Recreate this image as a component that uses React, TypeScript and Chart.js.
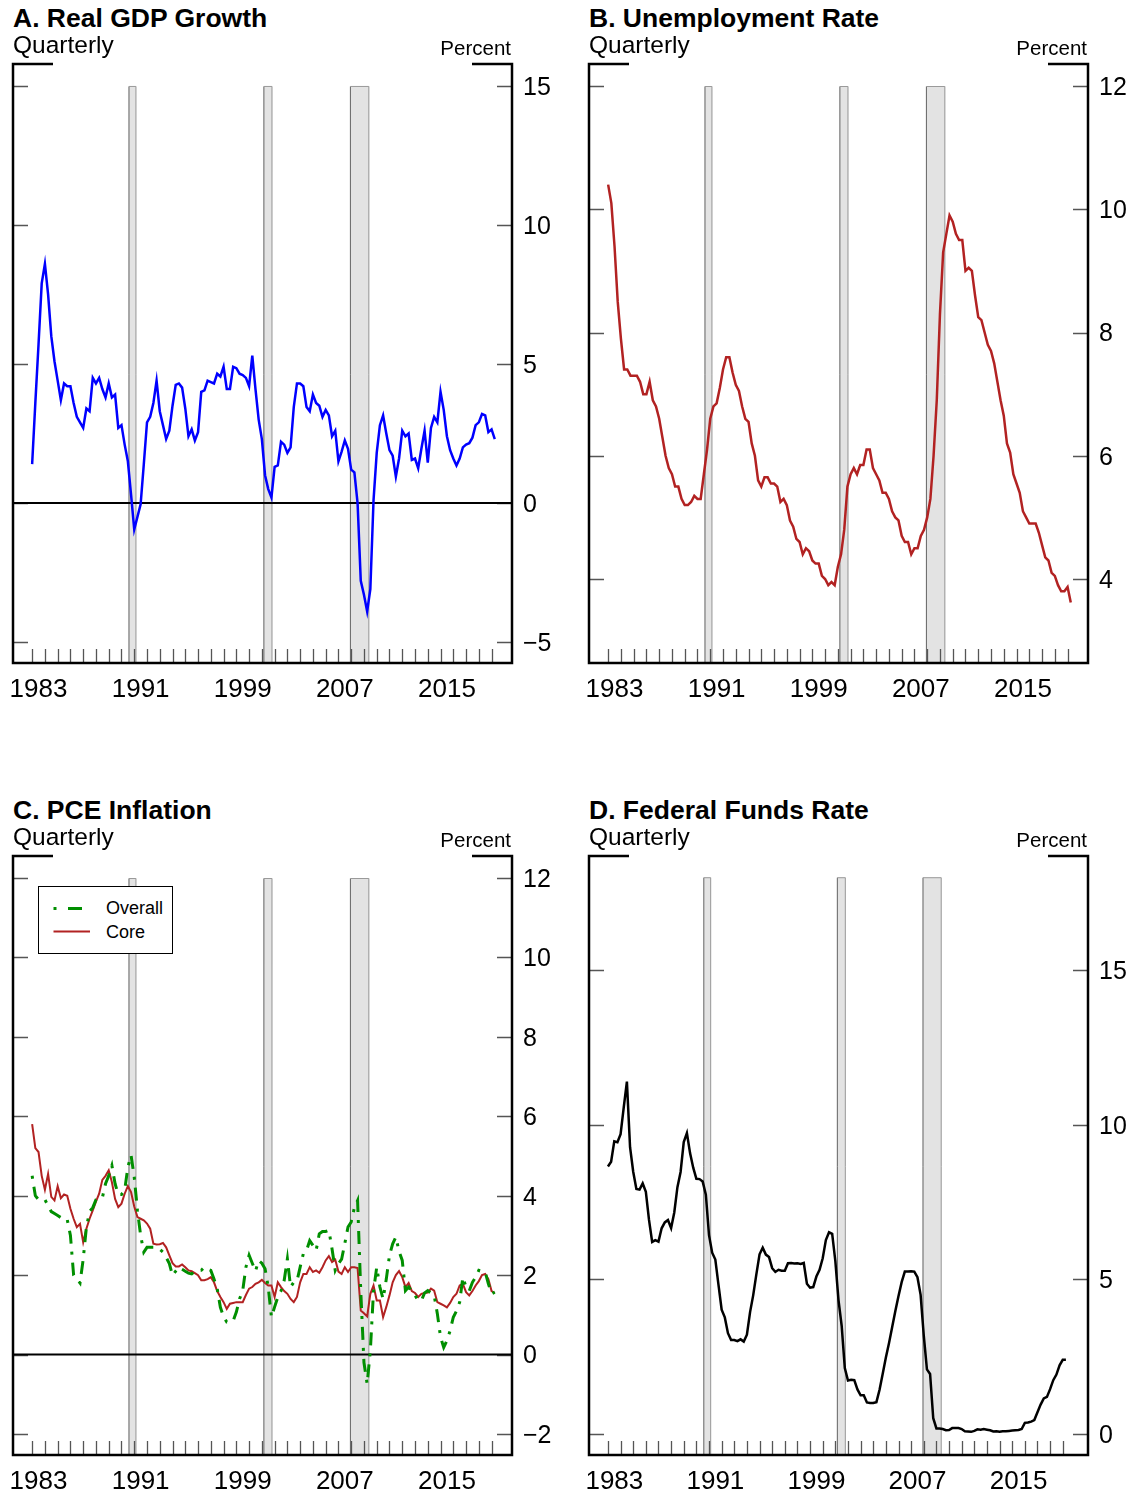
import React, { useEffect, useRef } from 'react';
import { Chart, registerables } from 'chart.js';

Chart.register(...registerables);
Chart.defaults.font.family = '"Liberation Sans", Arial, Helvetica, sans-serif';

// ---------- data ----------
const START_YEAR = 1983;
const N_QUARTERS = 146; // 1983Q1 .. 2019Q2
const quarters: string[] = Array.from({ length: N_QUARTERS }, (_, i) => `${START_YEAR + Math.floor(i / 4)}Q${(i % 4) + 1}`);

const gdpGrowth = [
  1.4, 3.6, 5.7, 7.9, 8.6, 7.5, 6.0, 5.1, 4.4, 3.7, 4.3, 4.2, 4.2, 3.6, 3.1, 2.9,
  2.7, 3.4, 3.3, 4.5, 4.3, 4.5, 4.1, 3.8, 4.3, 3.8, 3.9, 2.7, 2.8, 2.1, 1.5, 0.3,
  -0.95, -0.5, -0.05, 1.4, 2.9, 3.1, 3.6, 4.4, 3.3, 2.8, 2.3, 2.6, 3.5, 4.25, 4.3, 4.15,
  3.4, 2.4, 2.65, 2.25, 2.55, 4.0, 4.05, 4.4, 4.35, 4.3, 4.65, 4.55, 4.9, 4.1, 4.1, 4.9,
  4.85, 4.65, 4.6, 4.5, 4.2, 5.3, 4.1, 3.0, 2.3, 1.0, 0.5, 0.2, 1.3, 1.35, 2.2, 2.1,
  1.8, 2.0, 3.45, 4.3, 4.3, 4.2, 3.45, 3.3, 3.9, 3.6, 3.5, 3.1, 3.35, 3.15, 2.4, 2.6,
  1.5, 1.85, 2.25, 1.95, 1.2, 1.1, 0.0, -2.8, -3.3, -3.9, -3.1, 0.1, 1.8, 2.8, 3.15, 2.5,
  1.9, 1.7, 0.95, 1.6, 2.6, 2.4, 2.5, 1.55, 1.6, 1.25, 1.95, 2.6, 1.45, 2.7, 3.1, 2.9,
  4.0, 3.35, 2.4, 1.9, 1.6, 1.35, 1.6, 2.0, 2.1, 2.15, 2.35, 2.8, 2.9, 3.2, 3.15, 2.55,
  2.65, 2.3,
];

const unemploymentRate = [
  10.4, 10.1, 9.4, 8.5, 7.9, 7.4, 7.4, 7.3, 7.3, 7.3, 7.2, 7.0, 7.0, 7.2, 6.9, 6.8,
  6.6, 6.3, 6.0, 5.8, 5.7, 5.5, 5.5, 5.3, 5.2, 5.2, 5.25, 5.35, 5.3, 5.3, 5.7, 6.1,
  6.6, 6.8, 6.85, 7.1, 7.4, 7.6, 7.6, 7.35, 7.15, 7.05, 6.8, 6.6, 6.55, 6.2, 6.0, 5.6,
  5.5, 5.65, 5.65, 5.55, 5.55, 5.5, 5.25, 5.3, 5.2, 4.95, 4.85, 4.65, 4.6, 4.4, 4.5, 4.45,
  4.3, 4.25, 4.25, 4.05, 4.0, 3.9, 3.95, 3.9, 4.2, 4.4, 4.8, 5.5, 5.7, 5.8, 5.7, 5.85,
  5.85, 6.1, 6.1, 5.8, 5.7, 5.6, 5.4, 5.4, 5.3, 5.1, 5.0, 4.95, 4.7, 4.6, 4.6, 4.4,
  4.5, 4.5, 4.7, 4.8, 5.0, 5.3, 6.0, 6.9, 8.3, 9.3, 9.6, 9.9, 9.8, 9.6, 9.5, 9.5,
  9.0, 9.05, 9.0, 8.6, 8.25, 8.2, 8.0, 7.8, 7.7, 7.5, 7.2, 6.9, 6.65, 6.2, 6.05, 5.7,
  5.55, 5.4, 5.1, 5.0, 4.9, 4.9, 4.9, 4.75, 4.55, 4.35, 4.3, 4.1, 4.05, 3.9, 3.8, 3.8,
  3.87, 3.62,
];

const pceOverall = [
  4.5, 4.0, 3.9, 3.9, 3.9, 3.75, 3.6, 3.55, 3.5, 3.45, 3.46, 3.4, 3.0, 2.0, 1.9, 1.8,
  2.4, 3.2, 3.6, 3.7, 3.9, 3.95, 3.95, 4.3, 4.5, 4.76, 4.3, 4.03, 4.03, 4.13, 4.72, 5.02,
  4.47, 3.63, 3.0, 2.58, 2.7, 2.7, 2.7, 2.7, 2.65, 2.58, 2.45, 2.29, 1.99, 2.1, 2.2, 2.15,
  2.1, 2.05, 2.03, 2.1, 2.12, 2.12, 2.2, 2.15, 2.12, 1.9, 1.66, 1.19, 0.95, 0.82, 0.82, 0.85,
  1.07, 1.4, 1.61, 2.2, 2.5, 2.3, 2.1, 2.37, 2.3, 2.16, 1.7, 0.94, 1.2, 1.45, 1.6, 1.87,
  2.41, 1.7, 1.82, 1.85, 2.2, 2.54, 2.62, 2.87, 2.75, 2.62, 3.04, 3.1, 3.1, 3.13, 2.66, 2.12,
  2.29, 2.4, 2.8, 3.21, 3.34, 3.7, 3.88, 1.6, -0.2, -0.74, 0.1, 1.6, 2.2, 1.7, 1.4, 1.9,
  2.5, 2.79, 2.96, 2.6, 2.37, 1.61, 1.7, 1.6, 1.49, 1.36, 1.36, 1.55, 1.61, 1.55, 1.49, 1.03,
  0.44, 0.18, 0.35, 0.6, 0.94, 1.1, 1.32, 1.95, 1.7, 1.6, 1.82, 1.95, 2.12, 2.1, 2.08, 1.78,
  1.53, 1.57,
];

const pceCore = [
  5.8, 5.2, 5.1, 4.5, 4.15, 4.55, 3.97, 3.88, 4.24, 3.94, 4.03, 4.0, 3.67, 3.42, 3.21, 3.29,
  2.83, 3.17, 3.42, 3.63, 3.85, 4.05, 4.4, 4.5, 4.64, 4.34, 3.92, 3.71, 3.8, 4.05, 4.24, 4.09,
  3.73, 3.46, 3.42, 3.38, 3.3, 3.17, 2.79, 2.77, 2.78, 2.81, 2.7, 2.5, 2.3, 2.22, 2.22, 2.27,
  2.2, 2.12, 2.1, 2.05, 2.0, 1.87, 1.87, 1.9, 1.95, 1.82, 1.6, 1.45, 1.32, 1.15, 1.28, 1.3,
  1.32, 1.32, 1.32, 1.5, 1.66, 1.7, 1.78, 1.82, 1.88, 1.8, 1.74, 1.74, 1.45, 1.82, 1.7, 1.6,
  1.53, 1.4, 1.32, 1.45, 1.82, 2.03, 2.03, 2.2, 2.08, 2.12, 2.06, 2.2, 2.37, 2.48, 2.33, 2.39,
  2.09, 2.03, 2.2, 2.08, 2.2, 2.2, 2.18, 1.11, 1.04, 0.96, 1.53, 1.74, 1.36, 1.36, 0.94, 1.2,
  1.49, 1.82, 2.0, 2.1, 1.95, 1.7, 1.8, 1.6, 1.55, 1.45, 1.53, 1.55, 1.56, 1.66, 1.61, 1.32,
  1.28, 1.24, 1.19, 1.3, 1.45, 1.53, 1.74, 1.78, 1.57, 1.49, 1.6, 1.74, 1.85, 2.0, 2.03, 1.9,
  1.6, 1.55,
];

const fedFundsRate = [
  8.65, 8.8, 9.46, 9.43, 9.69, 10.56, 11.39, 9.27, 8.48, 7.92, 7.9, 8.1, 7.83, 6.92, 6.21, 6.27,
  6.22, 6.65, 6.84, 6.92, 6.66, 7.16, 7.98, 8.47, 9.44, 9.73, 9.08, 8.61, 8.25, 8.24, 8.16, 7.74,
  6.43, 5.86, 5.64, 4.82, 4.02, 3.77, 3.26, 3.04, 3.04, 3.0, 3.06, 2.99, 3.21, 3.94, 4.49, 5.17,
  5.81, 6.02, 5.8, 5.72, 5.36, 5.24, 5.31, 5.28, 5.28, 5.52, 5.53, 5.51, 5.52, 5.5, 5.53, 4.86,
  4.73, 4.75, 5.09, 5.31, 5.68, 6.27, 6.52, 6.47, 5.59, 4.33, 3.5, 2.13, 1.73, 1.75, 1.74, 1.44,
  1.25, 1.25, 1.02, 1.0, 1.0, 1.03, 1.43, 1.95, 2.47, 2.94, 3.46, 3.98, 4.46, 4.91, 5.25, 5.25,
  5.26, 5.25, 5.07, 4.5, 3.18, 2.09, 1.94, 0.51, 0.18, 0.18, 0.16, 0.12, 0.13, 0.19, 0.19, 0.19,
  0.16, 0.09, 0.08, 0.07, 0.1, 0.15, 0.14, 0.16, 0.14, 0.12, 0.08, 0.09, 0.07, 0.09, 0.09, 0.1,
  0.11, 0.12, 0.13, 0.16, 0.36, 0.37, 0.4, 0.45, 0.7, 0.95, 1.15, 1.2, 1.45, 1.74, 1.92, 2.22,
  2.4, 2.4,
];

const recessions: [number, number][] = [
  [1990.55, 1991.17],
  [2001.12, 2001.83],
  [2007.9, 2009.42],
];

const xTickYears = Array.from({ length: 38 }, (_, i) => 1982 + i); // 1982 (unlabelled) .. 2019
const labeledYears = [1983, 1991, 1999, 2007, 2015];

const yTicksA = [-5, 0, 5, 10, 15];
const yTicksB = [4, 6, 8, 10, 12];
const yTicksC = [-2, 0, 2, 4, 6, 8, 10, 12];
const yTicksD = [0, 5, 10, 15];

// ---------- helpers ----------
const quarterToX = (q: string) => {
  const yr = parseInt(q.slice(0, 4), 10);
  const qi = parseInt(q.slice(5), 10);
  return yr + (qi - 1) / 4;
};
const toPoints = (vals: number[]) => vals.map((v, i) => ({ x: quarterToX(quarters[i]), y: v }));

const FONT = '"Liberation Sans", Arial, Helvetica, sans-serif';

const decorPlugin = {
  id: 'panelDecor',
  beforeDatasetsDraw(chart: any, _args: any, opts: any) {
    const { ctx, chartArea: a, scales } = chart;
    const x = scales.x;
    const y = scales.y;
    ctx.save();
    // recession bands
    const yt = y.getPixelForValue(opts.bandTop);
    for (const [s, e] of opts.bands as [number, number][]) {
      const x0 = x.getPixelForValue(s);
      const x1 = x.getPixelForValue(e);
      ctx.fillStyle = '#e3e3e3';
      ctx.fillRect(x0, yt, x1 - x0, a.bottom - yt);
      ctx.lineWidth = 1;
      ctx.strokeStyle = '#666';
      ctx.beginPath();
      ctx.moveTo(x0 + 0.5, a.bottom);
      ctx.lineTo(x0 + 0.5, yt + 0.5);
      ctx.stroke();
      ctx.strokeStyle = '#9a9a9a';
      ctx.beginPath();
      ctx.moveTo(x0 + 0.5, yt + 0.5);
      ctx.lineTo(x1 - 0.5, yt + 0.5);
      ctx.lineTo(x1 - 0.5, a.bottom);
      ctx.stroke();
    }
    // y tick marks (inward, both sides)
    ctx.strokeStyle = '#555';
    ctx.lineWidth = 1.3;
    for (const t of y.ticks) {
      const py = Math.round(y.getPixelForValue(t.value)) + 0.5;
      ctx.beginPath();
      ctx.moveTo(a.left, py);
      ctx.lineTo(a.left + 15, py);
      ctx.moveTo(a.right - 15, py);
      ctx.lineTo(a.right, py);
      ctx.stroke();
    }
    // x tick marks (inward)
    for (const t of x.ticks) {
      if (t.value < START_YEAR) continue;
      const px = Math.round(x.getPixelForValue(t.value)) + 0.5;
      ctx.beginPath();
      ctx.moveTo(px, a.bottom - 14);
      ctx.lineTo(px, a.bottom);
      ctx.stroke();
    }
    // zero line
    if (opts.zeroLine) {
      const py = y.getPixelForValue(0);
      ctx.strokeStyle = '#000';
      ctx.lineWidth = 2;
      ctx.beginPath();
      ctx.moveTo(a.left, py);
      ctx.lineTo(a.right, py);
      ctx.stroke();
    }
    ctx.restore();
  },
  afterDatasetsDraw(chart: any) {
    const { ctx, chartArea: a } = chart;
    ctx.save();
    ctx.strokeStyle = '#000';
    ctx.lineWidth = 2.5;
    ctx.lineJoin = 'miter';
    ctx.beginPath();
    ctx.moveTo(a.left + 40, a.top);
    ctx.lineTo(a.left, a.top);
    ctx.lineTo(a.left, a.bottom);
    ctx.lineTo(a.right, a.bottom);
    ctx.lineTo(a.right, a.top);
    ctx.lineTo(a.right - 40, a.top);
    ctx.stroke();
    ctx.restore();
  },
};

type PanelDef = {
  id: string;
  left: number;
  top: number;
  title: string;
  yMin: number;
  yMax: number;
  xMax: number;
  yTicks: number[];
  bandTop: number;
  zeroLine: boolean;
  datasets: any[];
};

const CANVAS_W = 561;
const CANVAS_H = 665;
const CANVAS_OFFSET_TOP = 38;

const panels: PanelDef[] = [
  {
    id: 'A', left: 0, top: 0, title: 'A. Real GDP Growth',
    yMin: -5.755, yMax: 15.79, xMax: 2020.6, yTicks: yTicksA, bandTop: 15, zeroLine: true,
    datasets: [{ data: toPoints(gdpGrowth), borderColor: '#0000ff', borderWidth: 2.5 }],
  },
  {
    id: 'B', left: 576, top: 0, title: 'B. Unemployment Rate',
    yMin: 2.637, yMax: 12.357, xMax: 2020.6, yTicks: yTicksB, bandTop: 12, zeroLine: false,
    datasets: [{ data: toPoints(unemploymentRate), borderColor: '#b22222', borderWidth: 2.5 }],
  },
  {
    id: 'C', left: 0, top: 792, title: 'C. PCE Inflation',
    yMin: -2.529, yMax: 12.554, xMax: 2020.6, yTicks: yTicksC, bandTop: 12, zeroLine: true,
    datasets: [
      { data: toPoints(pceOverall), borderColor: '#008f00', borderWidth: 3, borderDash: [3, 8, 13, 8], borderCapStyle: 'butt' },
      { data: toPoints(pceCore), borderColor: '#b22222', borderWidth: 2 },
    ],
  },
  {
    id: 'D', left: 576, top: 792, title: 'D. Federal Funds Rate',
    yMin: -0.679, yMax: 18.686, xMax: 2021.0, yTicks: yTicksD, bandTop: 18, zeroLine: false,
    datasets: [{ data: toPoints(fedFundsRate), borderColor: '#000000', borderWidth: 2.5 }],
  },
];

function PanelChart({ p }: { p: PanelDef }) {
  const ref = useRef<HTMLCanvasElement | null>(null);
  useEffect(() => {
    if (!ref.current) return;
    const chart = new Chart(ref.current, {
      type: 'line',
      data: {
        datasets: p.datasets.map((d) => ({ ...d, pointRadius: 0, tension: 0, fill: false })),
      },
      options: {
        animation: false,
        responsive: false,
        events: [],
        layout: { padding: { left: 13, top: 0, right: 0, bottom: 0 }, autoPadding: false },
        plugins: {
          legend: { display: false },
          tooltip: { enabled: false },
          title: { display: false },
          panelDecor: { bands: recessions, bandTop: p.bandTop, zeroLine: p.zeroLine },
        } as any,
        scales: {
          x: {
            type: 'linear',
            min: 1981.5,
            max: p.xMax,
            afterBuildTicks: (s: any) => {
              s.ticks = xTickYears.map((v) => ({ value: v }));
            },
            afterFit: (s: any) => {
              s.height = 40;
            },
            grid: { display: false, drawTicks: false },
            border: { display: false },
            ticks: {
              autoSkip: false,
              maxRotation: 0,
              minRotation: 0,
              padding: 11,
              labelOffset: 6.4,
              color: '#000',
              font: { size: 26, family: FONT },
              callback: (v: any) => (labeledYears.includes(Number(v)) ? String(v) : ''),
            },
          },
          y: {
            type: 'linear',
            position: 'right',
            min: p.yMin,
            max: p.yMax,
            afterBuildTicks: (s: any) => {
              s.ticks = p.yTicks.map((v) => ({ value: v }));
            },
            afterFit: (s: any) => {
              s.width = CANVAS_W - 512;
            },
            grid: { display: false, drawTicks: false },
            border: { display: false },
            ticks: {
              padding: 11,
              labelOffset: 2,
              color: '#000',
              font: { size: 25, family: FONT },
              callback: (v: any) => String(v).replace('-', '\u2212'),
            },
          },
        },
      } as any,
      plugins: [decorPlugin as any],
    });
    return () => chart.destroy();
  }, [p]);
  return (
    <canvas
      ref={ref}
      width={CANVAS_W}
      height={CANVAS_H}
      style={{ position: 'absolute', left: p.left, top: p.top + CANVAS_OFFSET_TOP, width: CANVAS_W, height: CANVAS_H }}
    />
  );
}

function PanelText({ p }: { p: PanelDef }) {
  return (
    <>
      <div style={{ position: 'absolute', left: p.left + 13, top: p.top + 5, font: `bold 26.5px/1 ${FONT}`, color: '#000', whiteSpace: 'nowrap' }}>
        {p.title}
      </div>
      <div style={{ position: 'absolute', left: p.left + 13, top: p.top + 33, font: `24.5px/1 ${FONT}`, color: '#000', whiteSpace: 'nowrap' }}>
        Quarterly
      </div>
      <div style={{ position: 'absolute', left: p.left + 311, width: 200, textAlign: 'right', top: p.top + 38, font: `20.5px/1 ${FONT}`, color: '#000', whiteSpace: 'nowrap' }}>
        Percent
      </div>
    </>
  );
}

function Legend() {
  return (
    <div style={{ position: 'absolute', left: 38, top: 886, width: 135, height: 68 }}>
      <div style={{ position: 'absolute', inset: 0, border: '1.5px solid #000', background: '#fff', boxSizing: 'border-box' }} />
      <svg width={135} height={68} style={{ position: 'absolute', left: 0, top: 0 }}>
        <line x1={15.5} y1={22.5} x2={18.5} y2={22.5} stroke="#008f00" strokeWidth={3} />
        <line x1={30} y1={22.5} x2={44} y2={22.5} stroke="#008f00" strokeWidth={3} />
        <line x1={15.5} y1={45.5} x2={52} y2={45.5} stroke="#b22222" strokeWidth={2} />
      </svg>
      <div style={{ position: 'absolute', left: 68, top: 13, font: `18px/18px ${FONT}`, color: '#000', whiteSpace: 'nowrap' }}>Overall</div>
      <div style={{ position: 'absolute', left: 68, top: 37, font: `18px/18px ${FONT}`, color: '#000', whiteSpace: 'nowrap' }}>Core</div>
    </div>
  );
}

export default function App() {
  return (
    <div style={{ position: 'absolute', left: 0, top: 0, width: 1137, height: 1497, overflow: 'hidden', background: '#fff' }}>
      {panels.map((p) => (
        <PanelChart key={p.id} p={p} />
      ))}
      {panels.map((p) => (
        <PanelText key={'t' + p.id} p={p} />
      ))}
      <Legend />
    </div>
  );
}
